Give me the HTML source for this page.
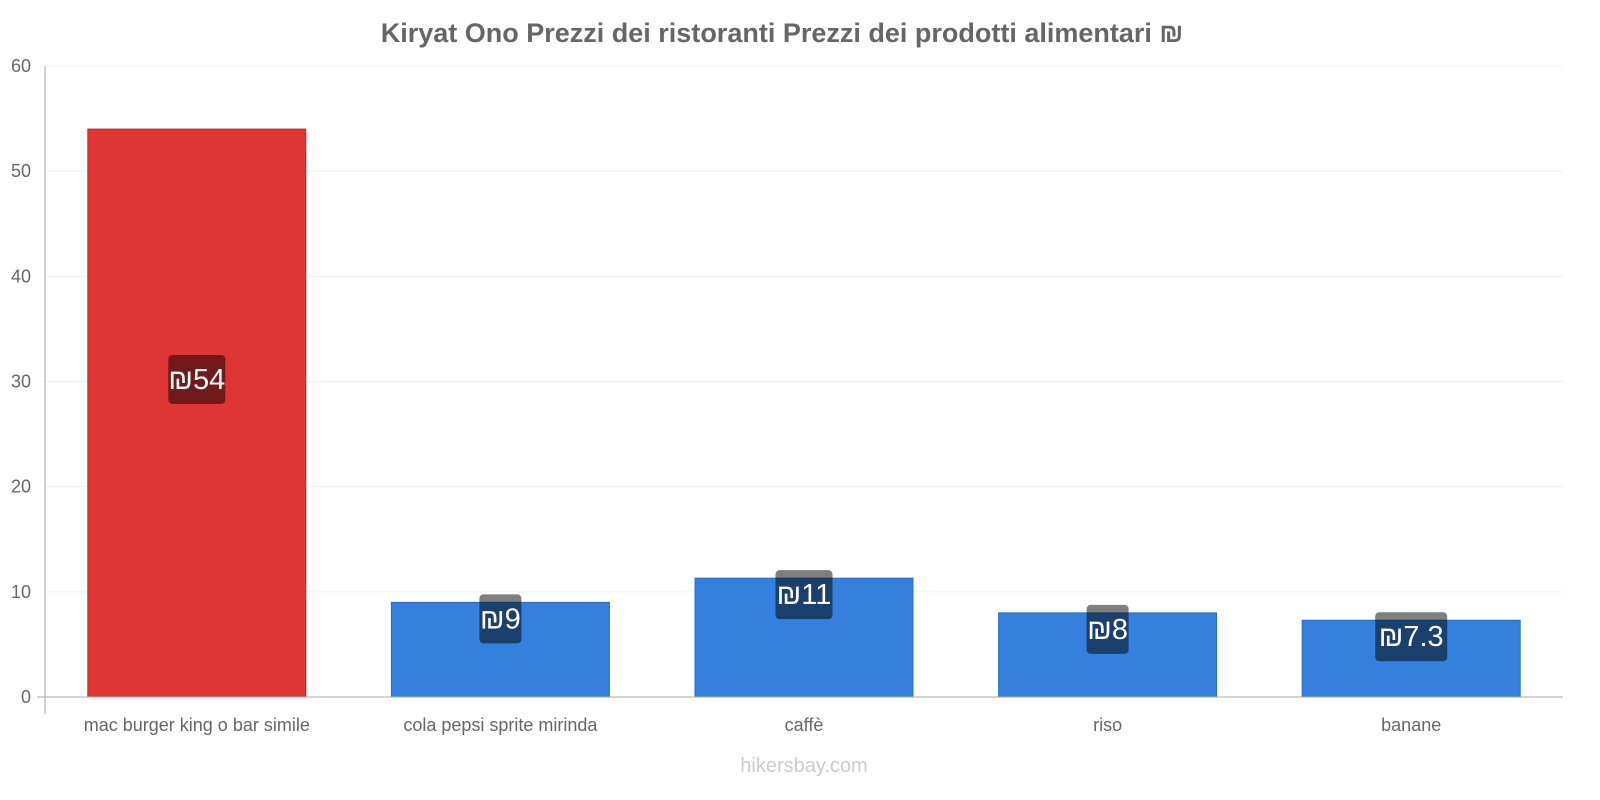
<!DOCTYPE html>
<html><head><meta charset="utf-8"><style>
body{margin:0;background:#fff;}
svg{display:block;font-family:"Liberation Sans",sans-serif;}
</style></head><body>
<svg id="c" width="1600" height="800"></svg>
<script>
const categories=["mac burger king o bar simile","cola pepsi sprite mirinda","caffè","riso","banane"];
const values=[54,9,11.3,8,7.3];
const valueLabels=["₪54","₪9","₪11","₪8","₪7.3"];
const colors=["#e03535","#3580dc","#3580dc","#3580dc","#3580dc"];
const yTicks=[0,10,20,30,40,50,60];
const svg=document.getElementById('c');
const NS="http://www.w3.org/2000/svg";
const x0=45,x1=1563,yBase=697,yTop=66,yMax=60;
const y=v=>yBase-(v/yMax)*(yBase-yTop);
const band=(x1-x0)/categories.length;
function mk(t,a,txt){const e=document.createElementNS(NS,t);for(const k in a)e.setAttribute(k,a[k]);if(txt!=null)e.textContent=txt;svg.appendChild(e);return e;}
let t=mk('text',{x:782,y:42,'text-anchor':'middle','font-size':27,'font-weight':'bold',fill:'#666'},'Kiryat Ono Prezzi dei ristoranti Prezzi dei prodotti alimentari ₪');


yTicks.forEach(v=>{
 const g=mk('line',{x1:x0,x2:x1,y1:y(v),y2:y(v),stroke:'#f0f0f0'});
 
 
 const l=mk('text',{x:31,y:y(v)+6,'text-anchor':'end','font-size':18,fill:'#666'},String(v));
 
 
});
categories.forEach((c,i)=>{
 const cx=x0+band*(i+0.5),w=218,v=values[i];
 const b=mk('rect',{x:cx-w/2,y:y(v),width:w,height:yBase-y(v),fill:colors[i],stroke:i?'#2a6cc0':'#c02828','stroke-width':1});
 
 
 const cy=v>30?y(v*0.56):y(v)+16;
 const bw=valueLabels[i].length*15+12;
 const r=mk('rect',{x:cx-bw/2,y:cy-24,width:bw,height:49,rx:4,fill:'rgba(0,0,0,0.5)'});
 
 
 const vt=mk('text',{x:cx,y:cy+10,'text-anchor':'middle','font-size':29,fill:'#fff'},valueLabels[i]);
 
 
 const xl=mk('text',{x:cx,y:731,'text-anchor':'middle','font-size':18,fill:'#666'},c);
 
 
});
let a=mk('line',{x1:x0,x2:x0,y1:yTop,y2:714,stroke:'#aaa'});


a=mk('line',{x1:x0-8,x2:x1,y1:yBase,y2:yBase,stroke:'#aaa'});


t=mk('text',{x:804,y:772,'text-anchor':'middle','font-size':20,fill:'#ccc'},'hikersbay.com');


</script>
</body></html>
